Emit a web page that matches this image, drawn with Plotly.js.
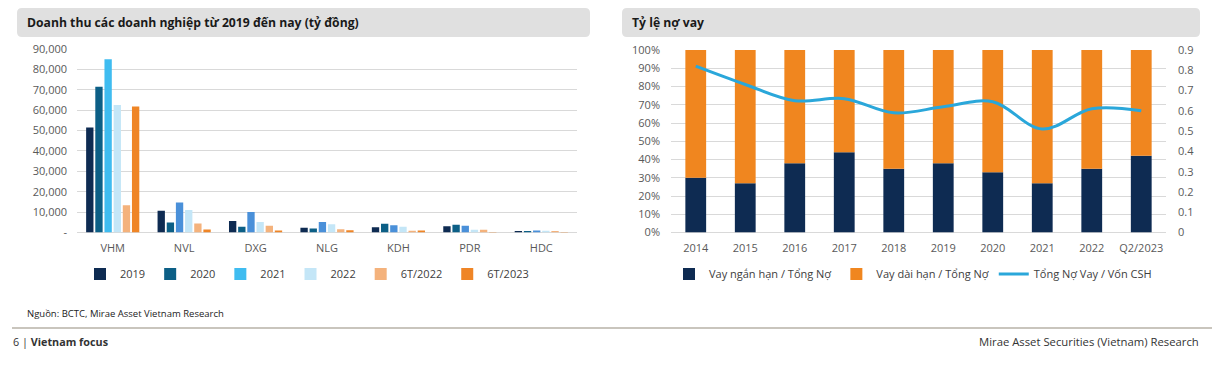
<!DOCTYPE html>
<html>
<head>
<meta charset="utf-8">
<script src="https://cdn.plot.ly/plotly-3.0.1.min.js"></script>
<style>
html,body{margin:0;padding:0;background:#fff;}
#chart{width:1217px;height:373px;}
</style>
</head>
<body>
<div id="chart"></div>
<script>
// ---------- Data: left chart (revenue, tỷ đồng) ----------
const companies = ['VHM','NVL','DXG','NLG','KDH','PDR','HDC'];
const periods = ['2019','2020','2021','2022','6T/2022','6T/2023'];
const rev2019   = [51500, 10700, 5700, 2300, 2600, 3100, 700];
const rev2020   = [71500,  4900, 2800, 2000, 4300, 3800, 700];
const rev2021   = [85000, 14700, 10000, 5100, 3600, 3300, 1000];
const rev2022   = [62500, 11000, 5200, 4100, 2800, 1300, 800];
const rev6T2022 = [13400,  4400, 3300, 1600,  800, 1300, 700];
const rev6T2023 = [61800,  1500, 1000, 1100, 1000,  300, 300];
const revTickVals = [0,10000,20000,30000,40000,50000,60000,70000,80000,90000];
const revTickText = ['-','10,000','20,000','30,000','40,000','50,000','60,000','70,000','80,000','90,000'];

// ---------- Data: right chart (debt ratios) ----------
const years = ['2014','2015','2016','2017','2018','2019','2020','2021','2022','Q2/2023'];
const shortTermPct = [30, 27, 38, 44, 35, 38, 33, 27, 35, 42];
const longTermPct  = [70, 73, 62, 56, 65, 62, 67, 73, 65, 58];
const debtToEquity = [0.82, 0.73, 0.65, 0.66, 0.59, 0.62, 0.645, 0.51, 0.61, 0.60];
const rightTickVals = [0,0.1,0.2,0.3,0.4,0.5,0.6,0.7,0.8,0.9];
const rightTickText = ['0','0.1','0.2','0.3','0.4','0.5','0.6','0.7','0.8','0.9'];

// ---------- helpers (pixel -> paper) ----------
const W = 1217, H = 373;
const px = x => x / W;
const py = y => 1 - y / H;
function roundRect(x0, y0, x1, y1, r) {
  const rx = r / W, ry = r / H;
  const L = px(x0), R = px(x1), T = py(y0), B = py(y1);
  return `M${L+rx},${T} L${R-rx},${T} Q${R},${T} ${R},${T-ry} L${R},${B+ry} Q${R},${B} ${R-rx},${B} L${L+rx},${B} Q${L},${B} ${L},${B+ry} L${L},${T-ry} Q${L},${T} ${L+rx},${T} Z`;
}

const FONT = '"Open Sans", "Noto Sans", sans-serif';
const tickFont = {family: FONT, size: 11, color: '#595959'};

const barColors = ['#0e2b52', '#0c5f86', '#4a90d9', '#c4e6f7', '#f4b27c', '#ef8526'];
const col2021 = companies.map((c, i) => i === 0 ? '#3fbcf0' : barColors[2]);
const revSeries = [rev2019, rev2020, rev2021, rev2022, rev6T2022, rev6T2023];

const traces = revSeries.map((vals, i) => ({
  type: 'bar',
  name: periods[i],
  x: companies,
  y: vals,
  xaxis: 'x', yaxis: 'y',
  marker: {color: i === 2 ? col2021 : barColors[i], line: {width: 0}},
  legend: 'legend',
  hoverinfo: 'skip'
}));

traces.push({
  type: 'bar', name: 'Vay ngắn hạn / Tổng Nợ',
  x: years, y: shortTermPct, xaxis: 'x2', yaxis: 'y2',
  offsetgroup: 'debt', width: 0.42,
  marker: {color: '#0e2b52', line: {width: 0}},
  legend: 'legend2', hoverinfo: 'skip'
});
traces.push({
  type: 'bar', name: 'Vay dài hạn / Tổng Nợ',
  x: years, y: longTermPct, base: shortTermPct, xaxis: 'x2', yaxis: 'y2',
  offsetgroup: 'debt', width: 0.42,
  marker: {color: '#f0861f', line: {width: 0}},
  legend: 'legend2', hoverinfo: 'skip'
});
traces.push({
  type: 'scatter', mode: 'lines', name: 'Tổng Nợ Vay / Vốn CSH',
  x: years, y: debtToEquity, xaxis: 'x2', yaxis: 'y3',
  line: {color: '#2aa7da', width: 3, shape: 'spline', smoothing: 1},
  legend: 'legend2', hoverinfo: 'skip'
});

const layout = {
  width: W, height: H,
  margin: {l: 0, r: 0, t: 0, b: 0},
  paper_bgcolor: '#ffffff', plot_bgcolor: '#ffffff',
  font: {family: FONT, color: '#404040'},
  barmode: 'group', bargap: 0.23, bargroupgap: 0.2,
  showlegend: true,
  xaxis: {
    type: 'category', categoryorder: 'array', categoryarray: companies,
    domain: [px(77), px(577)], anchor: 'y',
    tickfont: tickFont, showgrid: false, zeroline: false, showline: false,
    ticks: '', ticklabelstandoff: 7
  },
  yaxis: {
    domain: [py(232.5), py(49)], anchor: 'x',
    range: [0, 90000], tickvals: revTickVals, ticktext: revTickText,
    tickfont: tickFont, showgrid: true, gridcolor: '#d9d9d9', gridwidth: 1,
    zeroline: true, zerolinecolor: '#d9d9d9', zerolinewidth: 1,
    showline: false, ticks: '', ticklabelstandoff: 9
  },
  xaxis2: {
    type: 'category', categoryorder: 'array', categoryarray: years,
    domain: [px(671), px(1166)], anchor: 'y2',
    tickfont: tickFont, showgrid: false, zeroline: false, showline: false,
    ticks: '', ticklabelstandoff: 7
  },
  yaxis2: {
    domain: [py(232.5), py(50)], anchor: 'x2',
    range: [0, 100], dtick: 10, ticksuffix: '%',
    tickfont: tickFont, showgrid: true, gridcolor: '#d9d9d9', gridwidth: 1,
    zeroline: true, zerolinecolor: '#d9d9d9', zerolinewidth: 1,
    showline: false, ticks: '', ticklabelstandoff: 10
  },
  yaxis3: {
    overlaying: 'y2', side: 'right', anchor: 'x2',
    range: [0, 0.9], tickvals: rightTickVals, ticktext: rightTickText,
    tickfont: tickFont, showgrid: false, zeroline: false, showline: false,
    ticks: '', ticklabelstandoff: 11
  },
  legend: {
    orientation: 'h', x: px(307), xanchor: 'center', y: py(274), yanchor: 'middle',
    font: {family: FONT, size: 11, color: '#404040'},
    itemwidth: 30, tracegroupgap: 0, bgcolor: 'rgba(0,0,0,0)', traceorder: 'normal'
  },
  legend2: {
    orientation: 'h', x: px(913), xanchor: 'center', y: py(274), yanchor: 'middle',
    font: {family: FONT, size: 11, color: '#404040'},
    itemwidth: 30, bgcolor: 'rgba(0,0,0,0)', traceorder: 'normal'
  },
  shapes: [
    {type: 'path', xref: 'paper', yref: 'paper', path: roundRect(17, 8, 590, 37, 5),
     fillcolor: '#e0e0e0', line: {width: 0}, layer: 'below'},
    {type: 'path', xref: 'paper', yref: 'paper', path: roundRect(622, 8, 1200, 37, 5),
     fillcolor: '#e0e0e0', line: {width: 0}, layer: 'below'},
    {type: 'line', xref: 'paper', yref: 'paper', x0: px(12), x1: px(1212), y0: py(328), y1: py(328),
     line: {color: '#c9c5bd', width: 2}}
  ],
  annotations: [
    {xref: 'paper', yref: 'paper', x: px(25), y: py(22.5), xanchor: 'left', yanchor: 'middle',
     text: '<b>Doanh thu các doanh nghiệp từ 2019 đến nay (tỷ đồng)</b>', showarrow: false,
     font: {family: FONT, size: 12.2, color: '#1a1a1a'}},
    {xref: 'paper', yref: 'paper', x: px(630), y: py(22.5), xanchor: 'left', yanchor: 'middle',
     text: '<b>Tỷ lệ nợ vay</b>', showarrow: false,
     font: {family: FONT, size: 12.2, color: '#1a1a1a'}},
    {xref: 'paper', yref: 'paper', x: px(25), y: py(313), xanchor: 'left', yanchor: 'middle',
     text: 'Nguồn: BCTC, Mirae Asset Vietnam Research', showarrow: false,
     font: {family: FONT, size: 9.5, color: '#222222'}},
    {xref: 'paper', yref: 'paper', x: px(11), y: py(341), xanchor: 'left', yanchor: 'middle',
     text: '6 | <b>Vietnam focus</b>', showarrow: false,
     font: {family: FONT, size: 10.8, color: '#333333'}},
    {xref: 'paper', yref: 'paper', x: px(1201), y: py(341), xanchor: 'right', yanchor: 'middle',
     text: 'Mirae Asset Securities (Vietnam) Research', showarrow: false,
     font: {family: FONT, size: 11.3, color: '#333333'}}
  ]
};

Plotly.newPlot('chart', traces, layout, {staticPlot: true, displayModeBar: false});
</script>
</body>
</html>
